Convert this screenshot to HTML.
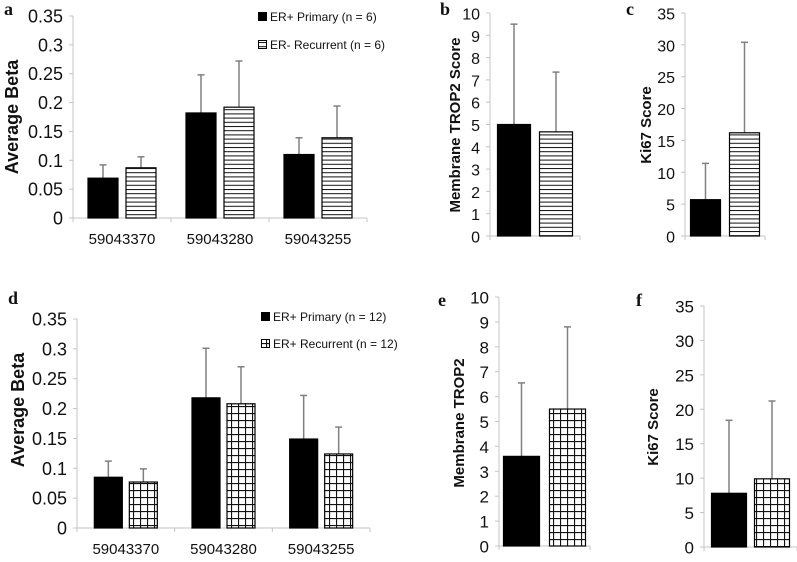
<!DOCTYPE html>
<html><head><meta charset="utf-8"><style>
body{margin:0;background:#fff;width:797px;height:557px;overflow:hidden}
svg text{font-family:"Liberation Sans",sans-serif}
</style></head><body>
<svg id="fig" width="797" height="557" viewBox="0 0 797 557" xmlns="http://www.w3.org/2000/svg">
<defs>
<pattern id="hstripe" patternUnits="userSpaceOnUse" width="8" height="4.2"><rect width="8" height="4.2" fill="#fff"/><line x1="0" y1="0.5" x2="8" y2="0.5" stroke="#111" stroke-width="1"/></pattern>
<pattern id="grid" patternUnits="userSpaceOnUse" width="7" height="7"><rect width="7" height="7" fill="#fff"/><path d="M0 0.5H7M0.5 0V7" stroke="#111" stroke-width="1.2"/></pattern>
</defs>
</svg>
<script>
// Panel a
const aCats=["59043370","59043280","59043255"];
const aPrim=[0.069,0.182,0.11];
const aPrimErr=[0.092,0.248,0.139];
const aRec=[0.087,0.192,0.139];
const aRecErr=[0.106,0.272,0.194];
const betaTicks=["0","0.05","0.1","0.15","0.2","0.25","0.3","0.35"];
// Panel b
const bPrim=[5.0]; const bPrimErr=[9.5];
const bRec=[4.67]; const bRecErr=[7.35];
const tropTicks=["0","1","2","3","4","5","6","7","8","9","10"];
// Panel c
const cPrim=[5.7]; const cPrimErr=[11.4];
const cRec=[16.2]; const cRecErr=[30.4];
const kiTicks=["0","5","10","15","20","25","30","35"];
// Panel d
const dCats=["59043370","59043280","59043255"];
const dPrim=[0.085,0.218,0.149];
const dPrimErr=[0.112,0.301,0.222];
const dRec=[0.077,0.208,0.124];
const dRecErr=[0.099,0.27,0.169];
// Panel e
const ePrim=[3.6]; const ePrimErr=[6.55];
const eRec=[5.5]; const eRecErr=[8.8];
// Panel f
const fPrim=[7.8]; const fPrimErr=[18.4];
const fRec=[9.9]; const fRecErr=[21.2];

const NS="http://www.w3.org/2000/svg";
const svg=document.getElementById('fig');
function mk(tag,attrs,parent){const e=document.createElementNS(NS,tag);for(const k in attrs)e.setAttribute(k,attrs[k]);(parent||svg).appendChild(e);return e;}

function panel(o){
  const g=mk('g',{});
  
  
  const max=parseFloat(o.ticks[o.ticks.length-1]);
  const y=v=>o.y0-(v/max)*(o.y0-o.ytop);
  const ax=mk('line',{x1:o.ax,y1:o.ytop,x2:o.ax,y2:o.y0,stroke:'#c4c4c4','stroke-width':1},g);
  
  
  const bl=mk('line',{x1:o.ax,y1:o.y0,x2:o.xend,y2:o.y0,stroke:'#c4c4c4','stroke-width':1},g);
  
  
  o.ticks.forEach(t=>{
    const yy=y(parseFloat(t));
    mk('line',{x1:o.ax-4,y1:yy,x2:o.ax,y2:yy,stroke:'#c4c4c4'},g);
    const tx=mk('text',{x:o.ax-10,y:yy+6.5,'text-anchor':'end','font-size':o.tfs||18,fill:'#111'},g);
    tx.textContent=t;
    
    
  });
  const n=o.prim.length;
  const cw=(o.xend-o.ax)/n;
  for(let i=0;i<=n;i++){const xx=o.ax+cw*i;mk('line',{x1:xx,y1:o.y0,x2:xx,y2:o.y0+4,stroke:'#c4c4c4'},g);}
  for(let i=0;i<n;i++){
    const cx=o.ax+cw*(i+0.5);
    const series=[[o.prim,o.primErr,'#000','bar-primary',-1],[o.rec,o.recErr,o.pat,'bar-recurrent',1]];
    series.forEach(([vals,errs,fill,nm,side])=>{
      const x0=side<0?cx-o.gap/2-o.bw:cx+o.gap/2;
      const xm=x0+o.bw/2;
      const el=mk('line',{x1:xm,y1:y(vals[i]),x2:xm,y2:y(errs[i]),stroke:'#808080','stroke-width':1.5},g);
      
      
      mk('line',{x1:xm-3.5,y1:y(errs[i]),x2:xm+3.5,y2:y(errs[i]),stroke:'#808080','stroke-width':1.5},g);
      const r=mk('rect',{x:x0,y:y(vals[i]),width:o.bw,height:o.y0-y(vals[i]),fill:fill,stroke:'#000','stroke-width':1.2},g);
      
      
    });
    if(o.cats){
      const tl=mk('text',{x:cx,y:o.y0+26,'text-anchor':'middle','font-size':15,fill:'#111'},g);
      tl.textContent=o.cats[i];
      
      
    }
  }
  const tt=mk('text',{x:0,y:0,'text-anchor':'middle','font-size':o.titfs||15,'font-weight':'bold',fill:'#111',transform:`translate(${o.tx},${o.ty}) rotate(-90)`},g);
  tt.textContent=o.title;
  
  
  const lt=mk('text',{x:o.lx,y:o.ly,'font-size':18,'font-weight':'bold',fill:'#111',style:'font-family:"Liberation Serif",serif'},g);
  lt.textContent=o.letter;
  
  
}
function legend(x,y1,y2,t1,t2,pat,name){
  const g=mk('g',{});
  
  
  mk('rect',{x:x,y:y1-5,width:9,height:9,fill:'#000'},g);
  const a=mk('text',{x:x+12,y:y1+4,'font-size':12,fill:'#111'},g);a.textContent=t1;
  
  
  mk('rect',{x:x+0.5,y:y2-4.5,width:8,height:8,fill:pat,stroke:'#000'},g);
  const b=mk('text',{x:x+12,y:y2+4,'font-size':12,fill:'#111'},g);b.textContent=t2;
  
  
}
panel({name:'panel-a',ax:73,y0:218,ytop:16,xend:367,ticks:betaTicks,cats:aCats,prim:aPrim,primErr:aPrimErr,rec:aRec,recErr:aRecErr,pat:'url(#hstripe)',bw:30,gap:8,title:'Average Beta',tx:18,ty:117,titfs:18,letter:'a',lx:4,ly:15});
legend(258,17,45,'ER+ Primary (n = 6)','ER- Recurrent (n = 6)','url(#hstripe)','legend-a');
panel({name:'panel-b',ax:490,y0:236,ytop:13,xend:580,ticks:tropTicks,prim:bPrim,primErr:bPrimErr,rec:bRec,recErr:bRecErr,pat:'url(#hstripe)',bw:33,gap:9,title:'Membrane TROP2 Score',tx:460,ty:125,letter:'b',lx:440,ly:15,tfs:16});
panel({name:'panel-c',ax:685,y0:236,ytop:13,xend:765,ticks:kiTicks,prim:cPrim,primErr:cPrimErr,rec:cRec,recErr:cRecErr,pat:'url(#hstripe)',bw:30,gap:9,title:'Ki67 Score',tx:651,ty:125,letter:'c',lx:626,ly:15,tfs:16});
panel({name:'panel-d',ax:77,y0:528,ytop:319,xend:370,ticks:betaTicks,cats:dCats,prim:dPrim,primErr:dPrimErr,rec:dRec,recErr:dRecErr,pat:'url(#grid)',bw:28,gap:7,title:'Average Beta',tx:24,ty:410,titfs:18,letter:'d',lx:8,ly:304});
legend(261,317,344,'ER+ Primary (n = 12)','ER+ Recurrent (n = 12)','url(#grid)','legend-d');
panel({name:'panel-e',ax:499,y0:546,ytop:297,xend:590,ticks:tropTicks,prim:ePrim,primErr:ePrimErr,rec:eRec,recErr:eRecErr,pat:'url(#grid)',bw:36,gap:10,title:'Membrane TROP2',tx:464,ty:423,letter:'e',lx:438,ly:306,tfs:17});
panel({name:'panel-f',ax:704,y0:547,ytop:306,xend:797,ticks:kiTicks,prim:fPrim,primErr:fPrimErr,rec:fRec,recErr:fRecErr,pat:'url(#grid)',bw:35,gap:8,title:'Ki67 Score',tx:658,ty:427,letter:'f',lx:636,ly:306,tfs:17});
</script>
</body></html>
